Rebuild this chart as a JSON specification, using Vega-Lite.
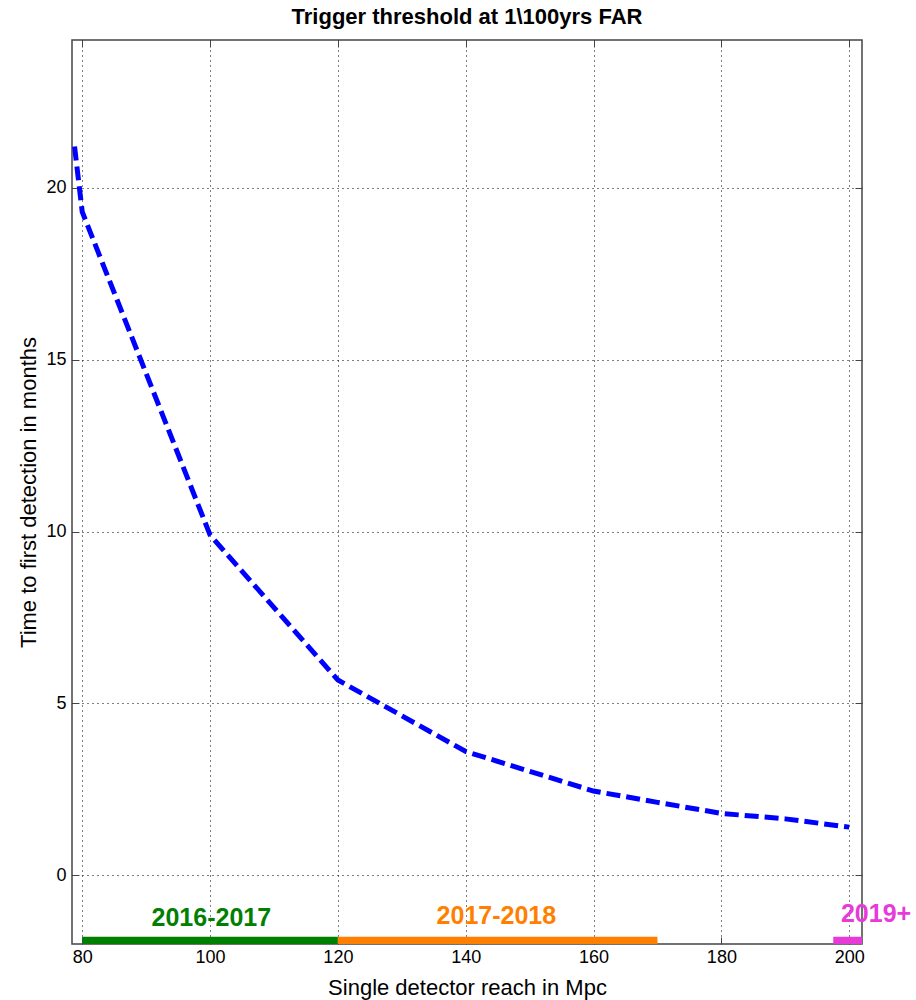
{
  "$schema": "https://vega.github.io/schema/vega-lite/v6.json",
  "autosize": "none",
  "width": 790,
  "height": 904,
  "padding": {"left": 72, "top": 40, "right": 54, "bottom": 56},
  "background": "white",
  "config": {
    "view": {"stroke": "#444", "strokeWidth": 1.5},
    "font": "Liberation Sans"
  },
  "title": {
    "text": "Trigger threshold at 1\\100yrs FAR",
    "font": "Liberation Sans",
    "fontSize": 22,
    "fontWeight": "bold",
    "color": "black",
    "offset": 11
  },
  "datasets": {
    "curve": [
      {"reach": 78.8, "months": 21.2},
      {"reach": 80, "months": 19.3},
      {"reach": 100, "months": 9.9},
      {"reach": 120, "months": 5.68},
      {"reach": 140, "months": 3.6},
      {"reach": 160, "months": 2.45},
      {"reach": 170, "months": 2.12},
      {"reach": 180, "months": 1.8},
      {"reach": 190, "months": 1.64},
      {"reach": 200, "months": 1.4}
    ],
    "eras": [
      {"era": "2016-2017", "start": 80, "end": 120, "labelx": 100.2, "labely": -1.24},
      {"era": "2017-2018", "start": 120, "end": 170, "labelx": 144.8, "labely": -1.18},
      {"era": "2019+", "start": 197.5, "end": 202, "labelx": 204.2, "labely": -1.12}
    ]
  },
  "resolve": {"axis": {"x": "independent", "y": "independent"}},
  "layer": [
    {
      "data": {"name": "curve"},
      "mark": {"type": "line", "color": "#0000ff", "strokeWidth": 5, "strokeDash": [14, 6], "clip": true},
      "encoding": {
        "x": {
          "field": "reach", "type": "quantitative",
          "scale": {"domain": [78.4, 202], "nice": false, "zero": false},
          "axis": {
            "title": "Single detector reach in Mpc",
            "titleFont": "Liberation Sans", "titleFontSize": 22, "titleFontWeight": "normal", "titleColor": "black",
            "titlePadding": 11,
            "values": [80, 100, 120, 140, 160, 180, 200],
            "labelFont": "Liberation Sans", "labelFontSize": 18, "labelColor": "black",
            "labelPadding": 11,
            "tickSize": -7, "tickColor": "#444", "domain": false,
            "grid": true, "gridColor": "black", "gridDash": [1, 4], "gridOpacity": 1
          }
        },
        "y": {
          "field": "months", "type": "quantitative",
          "scale": {"domain": [-2, 24.3], "nice": false, "zero": false},
          "axis": {
            "title": "Time to first detection in months",
            "titleFont": "Liberation Sans", "titleFontSize": 22, "titleFontWeight": "normal", "titleColor": "black",
            "titlePadding": 5,
            "values": [0, 5, 10, 15, 20],
            "labelFont": "Liberation Sans", "labelFontSize": 18, "labelColor": "black",
            "labelPadding": 13,
            "tickSize": -7, "tickColor": "#444", "domain": false,
            "grid": true, "gridColor": "black", "gridDash": [1, 4], "gridOpacity": 1
          }
        }
      }
    },
    {
      "data": {"name": "curve"},
      "mark": {"type": "point", "opacity": 0},
      "encoding": {
        "x": {
          "field": "reach", "type": "quantitative",
          "axis": {"orient": "top", "title": null, "labels": false, "values": [80, 100, 120, 140, 160, 180, 200], "tickSize": -7, "tickColor": "#444", "domain": false, "grid": false}
        },
        "y": {
          "field": "months", "type": "quantitative",
          "axis": {"orient": "right", "title": null, "labels": false, "values": [0, 5, 10, 15, 20], "tickSize": -7, "tickColor": "#444", "domain": false, "grid": false}
        }
      }
    },
    {
      "data": {"name": "eras"},
      "mark": {"type": "rule", "strokeWidth": 9, "clip": true},
      "encoding": {
        "x": {"field": "start", "type": "quantitative", "axis": null},
        "x2": {"field": "end"},
        "y": {"datum": -1.92, "axis": null},
        "color": {
          "field": "era", "type": "nominal",
          "scale": {"domain": ["2016-2017", "2017-2018", "2019+"], "range": ["#008000", "#ff7f00", "#e83ad8"]},
          "legend": null
        }
      }
    },
    {
      "data": {"name": "eras"},
      "mark": {"type": "text", "font": "Liberation Sans", "fontSize": 25, "fontWeight": "bold", "align": "center", "baseline": "middle", "clip": false},
      "encoding": {
        "x": {"field": "labelx", "type": "quantitative", "axis": null},
        "y": {"field": "labely", "type": "quantitative", "axis": null},
        "text": {"field": "era"},
        "color": {"field": "era", "type": "nominal", "legend": null}
      }
    }
  ]
}
